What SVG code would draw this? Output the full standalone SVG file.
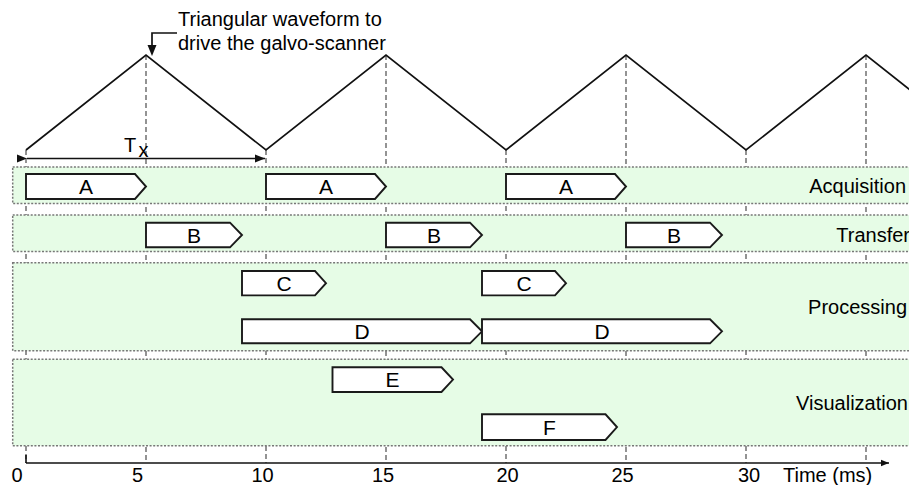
<svg xmlns="http://www.w3.org/2000/svg" width="909" height="485" viewBox="0 0 909 485">
<defs>
<style>
text{font-family:"Liberation Sans",Arial,sans-serif;fill:#000;font-size:20px}
.band{fill:#e6fce6;stroke:#777;stroke-width:1.5;stroke-dasharray:2 1.6}
.grid{stroke:#666;stroke-width:1.4;stroke-dasharray:5 3;fill:none}
.box{fill:#fff;stroke:#1a1a1a;stroke-width:1.9;stroke-linejoin:miter}
.lbl{text-anchor:middle}
.bl{text-anchor:middle;font-size:21px}
.rl{text-anchor:end}
.ax{stroke:#111;stroke-width:1.6;fill:none}
</style>
<marker id="ah" viewBox="0 0 10 10" refX="10" refY="5" markerWidth="10" markerHeight="8" markerUnits="userSpaceOnUse" orient="auto-start-reverse">
<path d="M0,1 L10,5 L0,9 Z" fill="#111"/>
</marker>
<marker id="ah2" viewBox="0 0 10 10" refX="10" refY="5" markerWidth="16" markerHeight="10" markerUnits="userSpaceOnUse" orient="auto">
<path d="M0,1 L10,5 L0,9 Z" fill="#111"/>
</marker>
</defs>
<rect width="909" height="485" fill="#fff"/>
<g id="gridlines">
<line class="grid" x1="26" y1="150" x2="26" y2="463"/>
<line class="grid" x1="146" y1="55" x2="146" y2="463"/>
<line class="grid" x1="266" y1="150" x2="266" y2="463"/>
<line class="grid" x1="386" y1="55" x2="386" y2="463"/>
<line class="grid" x1="506" y1="150" x2="506" y2="463"/>
<line class="grid" x1="626" y1="55" x2="626" y2="463"/>
<line class="grid" x1="746" y1="150" x2="746" y2="463"/>
<line class="grid" x1="866" y1="55" x2="866" y2="463"/>
</g>
<g id="waveform">
<polyline points="26,150 146,55 266,150 386,55 506,150 626,55 746,150 866,55 920,97.75" fill="none" stroke="#111" stroke-width="1.7" stroke-linejoin="miter"/>
</g>
<g id="annotation">
<text x="178" y="26">Triangular waveform to</text>
<text x="178" y="50">drive the galvo-scanner</text>
<polyline points="177,33 152,33 152,46" fill="none" stroke="#111" stroke-width="1.7"/>
<path d="M147.5,45 L156.5,45 L152,56 Z" fill="#111"/>
</g>
<g id="period">
<line x1="27" y1="158.5" x2="265" y2="158.5" stroke="#111" stroke-width="1.5" marker-start="url(#ah2)" marker-end="url(#ah2)"/>
<text x="124" y="152" font-size="21">T</text>
<text x="138.5" y="157" font-size="15">x</text>
</g>
<g id="band-acquisition">
<rect class="band" x="12.7" y="167" width="910" height="36.5"/>
<text class="rl" x="906" y="193">Acquisition</text>
</g>
<g id="band-transfer">
<rect class="band" x="12.7" y="215" width="910" height="36.5"/>
<text class="rl" x="910" y="242">Transfer</text>
</g>
<g id="band-processing">
<rect class="band" x="12.7" y="262.7" width="910" height="88"/>
<text class="rl" x="907" y="314">Processing</text>
</g>
<g id="band-visualization">
<rect class="band" x="12.7" y="359.3" width="910" height="86.5"/>
<text class="rl" x="908" y="410">Visualization</text>
</g>
<g id="A1"><path class="box" d="M26,174 H135 L146,186.5 L135,199 H26 Z"/><text class="bl" x="86" y="194">A</text></g>
<g id="A2"><path class="box" d="M266,174 H375 L386,186.5 L375,199 H266 Z"/><text class="bl" x="326" y="194">A</text></g>
<g id="A3"><path class="box" d="M506,174 H615 L626,186.5 L615,199 H506 Z"/><text class="bl" x="566" y="194">A</text></g>
<g id="B1"><path class="box" d="M146,222.7 H230 L242,235 L230,247.3 H146 Z"/><text class="bl" x="194" y="242.5">B</text></g>
<g id="B2"><path class="box" d="M386,222.7 H470 L482,235 L470,247.3 H386 Z"/><text class="bl" x="434" y="242.5">B</text></g>
<g id="B3"><path class="box" d="M626,222.7 H710 L722,235 L710,247.3 H626 Z"/><text class="bl" x="674" y="242.5">B</text></g>
<g id="C1"><path class="box" d="M242,271 H315 L326,283.2 L315,295.4 H242 Z"/><text class="bl" x="284" y="290.5">C</text></g>
<g id="C2"><path class="box" d="M482,271 H555 L566,283.2 L555,295.4 H482 Z"/><text class="bl" x="524" y="290.5">C</text></g>
<g id="D1"><path class="box" d="M242,319.3 H470 L482,331.3 L470,343.3 H242 Z"/><text class="bl" x="362" y="338.5">D</text></g>
<g id="D2"><path class="box" d="M482,319.3 H710 L722,331.3 L710,343.3 H482 Z"/><text class="bl" x="602" y="338.5">D</text></g>
<g id="E"><path class="box" d="M332.5,367.3 H441.5 L453,379.6 L441.5,392 H332.5 Z"/><text class="bl" x="392.5" y="387">E</text></g>
<g id="F"><path class="box" d="M482,414.3 H605.5 L617,427.1 L605.5,440 H482 Z"/><text class="bl" x="549.5" y="434.5">F</text></g>
<g id="axis">
<line class="ax" x1="26" y1="463" x2="889" y2="463" marker-end="url(#ah)"/>
<line class="ax" x1="26" y1="455" x2="26" y2="463"/>
<text class="lbl" x="17" y="482">0</text>
<text class="lbl" x="137.5" y="482">5</text>
<text class="lbl" x="262.5" y="482">10</text>
<text class="lbl" x="383" y="482">15</text>
<text class="lbl" x="507.5" y="482">20</text>
<text class="lbl" x="622.5" y="482">25</text>
<text class="lbl" x="749" y="482">30</text>
<text x="783" y="482">Time (ms)</text>
</g>
</svg>
